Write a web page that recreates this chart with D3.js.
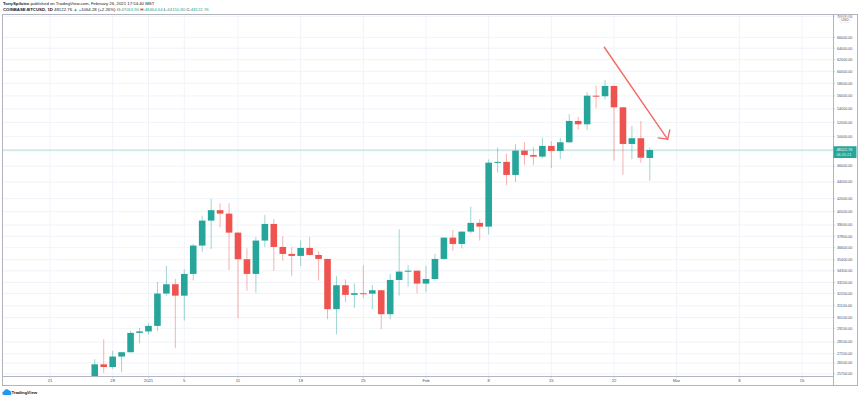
<!DOCTYPE html>
<html><head><meta charset="utf-8">
<script src="https://cdn.jsdelivr.net/npm/d3@7"></script>
<style>html,body{margin:0;padding:0;background:#fff;} svg{display:block;font-family:"Liberation Sans",Arial,sans-serif;}</style>
</head><body><svg id="c" width="860" height="399"></svg>
<script>
// ---- data ----
const dates = ["2020-12-26","2020-12-27","2020-12-28","2020-12-29","2020-12-30","2020-12-31",
"2021-01-01","2021-01-02","2021-01-03","2021-01-04","2021-01-05","2021-01-06","2021-01-07","2021-01-08","2021-01-09","2021-01-10",
"2021-01-11","2021-01-12","2021-01-13","2021-01-14","2021-01-15","2021-01-16","2021-01-17","2021-01-18","2021-01-19","2021-01-20",
"2021-01-21","2021-01-22","2021-01-23","2021-01-24","2021-01-25","2021-01-26","2021-01-27","2021-01-28","2021-01-29","2021-01-30","2021-01-31",
"2021-02-01","2021-02-02","2021-02-03","2021-02-04","2021-02-05","2021-02-06","2021-02-07","2021-02-08","2021-02-09","2021-02-10",
"2021-02-11","2021-02-12","2021-02-13","2021-02-14","2021-02-15","2021-02-16","2021-02-17","2021-02-18","2021-02-19","2021-02-20",
"2021-02-21","2021-02-22","2021-02-23","2021-02-24","2021-02-25","2021-02-26"];
const opens  = [24700,26400,26200,26980,27310,28830, 28950,29400,32190,33040,32000,34010,36820,39490,40660,40270,
38180,35440,34010,37340,39120,36680,35970,35770,36580,35870, 35470,30810,32950,32070,32220,32180,32490,30380,33440,34230,34320,
33100,33530,35470,37650,36990,38290,39240,38830,46450,46550, 44880,48040,47460,47240,48680,48000,49180,52210,51720,56040,
55950,57590,54240,48950,49740,47063.90];
const highs  = [26780,28320,27410,27320,28990,29240, 29620,33260,34780,33540,34460,36990,40040,41960,41460,41460,
38250,36530,37730,40110,39670,37790,36680,37360,37730,36240, 35500,33820,33490,33120,34850,32960,32520,34000,38550,34850,34320,
34770,35970,37690,38460,38300,41070,39660,46870,48480,47630, 48940,49190,48480,49850,49350,49800,53190,52810,56570,57630,
58560,57600,54300,51490,52210,48464.64];
const lows   = [24500,25750,26070,25830,27300,28010, 28700,28990,32000,27620,29840,33400,36180,36480,38760,34390,
30040,32450,32270,36680,34290,35300,33820,34770,35800,33380, 29960,28720,31410,30930,31790,30810,29130,29940,32000,32820,32200,
32310,33380,35400,36270,36530,38070,37340,38000,45180,43610, 44000,46160,46160,47020,45740,46920,49100,50960,50890,54100,
55470,46710,44880,46890,46450,44150.80];
const closes = [26400,26200,26980,27310,28830,28950, 29400,32190,33040,32000,34010,36820,39490,40660,40270,38180,
35440,34010,37340,39120,36680,35970,35770,36580,35870,35470, 30810,32950,32070,32220,32180,32490,30380,33440,34230,34320,33100,
33530,35470,37650,36990,38290,39240,38830,46450,46550,44880, 48040,47460,47240,48680,48000,49180,52210,51720,56040,55950,
57590,54240,48950,49740,47100,48122.76];
const priceTicks = [70000,66000,64000,62000,60000,58000,56000,54000,52000,50000,48000,46000,44000,42000,
40500,39000,37800,36600,35400,34300,33200,32200,31100,30100,29200,28100,27200,26500,25700];
const xTickDates  = ["2020-12-21","2020-12-28","2021-01-01","2021-01-05","2021-01-11","2021-01-18","2021-01-25",
"2021-02-01","2021-02-08","2021-02-15","2021-02-22","2021-03-01","2021-03-08","2021-03-15"];
const xTickLabels = ["21","28","2021","5","11","18","25","Feb","8","15","22","Mar","8","15"];
const lastPrice = 48122.76;
const countdown = "06:45:21";
const arrowFrom = {date:"2021-02-20T22:00:00Z", price:64180};
const arrowTo   = {date:"2021-02-28T00:00:00Z", price:49590};
const headerLine1 = ["TonySpilotro", " published on TradingView.com, February 26, 2021 17:54:40 MST"];
const headerLine2 = [["COINBASE:BTCUSD, 1D ","#131722"],["48122.76 ","#131722"],["▲ ","#26a69a"],["+1064.28 (+2.26%) ","#131722"],
  ["O:","#131722"],["47063.90 ","#26a69a"],["H:","#131722"],["48464.64 ","#26a69a"],["L:","#131722"],["44150.80 ","#26a69a"],["C:","#131722"],["48122.76","#26a69a"]];

// ---- layout ----
const W=860,H=399;
const L=2, R=833, T=14, B=376, FB=386, FR=858;
const UP="#26a69a", DOWN="#ef5350";
const svg=d3.select("#c");
const parse = s => new Date(s.length===10 ? s+"T00:00:00Z" : s);

const x = d3.scaleUtc().domain([parse("2020-12-21"), parse("2021-03-15")]).range([50, 802]);
const y = d3.scaleLog().domain([25550, 70450]).range([B, T]);

const candles = dates.map((d,i)=>({date:parse(d), o:opens[i], h:highs[i], l:lows[i], c:closes[i]}));

svg.append("rect").attr("width",W).attr("height",H).attr("fill","#fff");

// grid
const grid=svg.append("g");
grid.selectAll("line.h").data(priceTicks).join("line")
  .attr("x1",L).attr("x2",R).attr("y1",d=>y(d)).attr("y2",d=>y(d))
  .attr("stroke","#f0f3fa").attr("stroke-width",1);
grid.selectAll("line.v").data(xTickDates).join("line")
  .attr("x1",d=>x(parse(d))).attr("x2",d=>x(parse(d))).attr("y1",T).attr("y2",B)
  .attr("stroke","#f0f3fa").attr("stroke-width",1);

// clip
svg.append("clipPath").attr("id","plot").append("rect").attr("x",L).attr("y",T).attr("width",R-L).attr("height",B-T);
const plot=svg.append("g").attr("clip-path","url(#plot)");

// last price line
plot.append("line").attr("x1",L).attr("x2",R).attr("y1",y(lastPrice)).attr("y2",y(lastPrice))
  .attr("stroke",UP).attr("stroke-opacity",0.35).attr("stroke-width",1);

// candles
const bw = 6.6;
const cg = plot.append("g");
cg.selectAll("line.w").data(candles).join("line")
  .attr("x1",d=>x(d.date)).attr("x2",d=>x(d.date))
  .attr("y1",d=>y(d.h)).attr("y2",d=>y(d.l))
  .attr("stroke",d=>d.c>=d.o?UP:DOWN).attr("stroke-opacity",0.45).attr("stroke-width",1);
cg.selectAll("rect.b").data(candles).join("rect")
  .attr("x",d=>x(d.date)-bw/2).attr("width",bw)
  .attr("y",d=>y(Math.max(d.o,d.c)))
  .attr("height",d=>Math.max(1,Math.abs(y(d.o)-y(d.c))))
  .attr("fill",d=>d.c>=d.o?UP:DOWN);

// arrow
const ax1=x(parse(arrowFrom.date)), ay1=y(arrowFrom.price), ax2=x(parse(arrowTo.date)), ay2=y(arrowTo.price);
const ang=Math.atan2(ay1-ay2, ax1-ax2), hl=9.6, spread=47*Math.PI/180;
const arrowG=svg.append("g").attr("stroke","#f26b67").attr("stroke-width",1.4).attr("fill","none").attr("stroke-linecap","round");
arrowG.append("line").attr("x1",ax1).attr("y1",ay1).attr("x2",ax2).attr("y2",ay2);
arrowG.append("polyline").attr("points",[
  [ax2+hl*Math.cos(ang+spread), ay2+hl*Math.sin(ang+spread)],
  [ax2,ay2],
  [ax2+hl*Math.cos(ang-spread), ay2+hl*Math.sin(ang-spread)]].map(p=>p.join(",")).join(" "));

// frame
const fc="#b2b5be";
svg.append("rect").attr("x",L+0.5).attr("y",T+0.5).attr("width",FR-L-1).attr("height",FB-T-1)
  .attr("fill","none").attr("stroke",fc).attr("stroke-width",1);
svg.append("line").attr("x1",R+0.5).attr("x2",R+0.5).attr("y1",T).attr("y2",FB).attr("stroke",fc);
svg.append("line").attr("x1",L).attr("x2",R).attr("y1",B+0.5).attr("y2",B+0.5).attr("stroke",fc);

// price axis labels
const pa=svg.append("g").attr("font-size",3.7).attr("fill","#4c525e");
priceTicks.forEach(p=>{
  const yy=y(p);
  if (yy<T-2) return;
  pa.append("line").attr("x1",R).attr("x2",R+2).attr("y1",yy).attr("y2",yy).attr("stroke",fc).attr("stroke-width",0.6);
  pa.append("text").attr("x",R+4).attr("y",yy+1.3).text(d3.format(".2f")(p));
});
// USD tag
svg.append("rect").attr("x",840).attr("y",17.5).attr("width",10).attr("height",5).attr("fill","#fff").attr("stroke","#e0e3eb").attr("stroke-width",0.5);
svg.append("text").attr("x",845).attr("y",21.4).attr("text-anchor","middle").attr("font-size",3.5).attr("fill","#4c525e").text("USD");

// last price tag
const ly=y(lastPrice);
svg.append("rect").attr("x",R+0.5).attr("y",ly-3.8).attr("width",23).attr("height",11.8).attr("fill",UP);
svg.append("text").attr("x",R+3.5).attr("y",ly+1.4).attr("font-size",3.8).attr("fill","#fff").text(d3.format(".2f")(lastPrice));
svg.append("text").attr("x",R+3.5).attr("y",ly+6.2).attr("font-size",3.8).attr("fill","#fff").attr("fill-opacity",0.85).text(countdown);

// x axis labels
const xa=svg.append("g").attr("font-size",4.2).attr("fill","#4c525e").attr("text-anchor","middle");
xTickDates.forEach((d,i)=>{
  const xx=x(parse(d));
  xa.append("line").attr("x1",xx).attr("x2",xx).attr("y1",B).attr("y2",B+2).attr("stroke",fc).attr("stroke-width",0.6);
  xa.append("text").attr("x",xx).attr("y",B+6.3).text(xTickLabels[i]);
});

// header
const h1=svg.append("text").attr("x",3).attr("y",5.3).attr("font-size",4.3).attr("fill","#131722");
h1.append("tspan").attr("font-weight","bold").text(headerLine1[0]);
h1.append("tspan").text(headerLine1[1]);
const h2=svg.append("text").attr("x",3).attr("y",11.4).attr("font-size",4.3);
headerLine2.forEach(([t,c],i)=>h2.append("tspan").attr("fill",c).attr("font-weight",i===0?"bold":"normal").text(t));

// logo
const lg=svg.append("g").attr("transform","translate(2,389)");
lg.append("path").attr("d","M1.5,6 a2,2 0 0 1 0.5,-3.8 a2.8,2.8 0 0 1 5,-0.6 a2,2 0 0 1 2.2,2.4 a1.5,1.5 0 0 1 -0.4,2 z").attr("fill","#2196f3");
lg.append("text").attr("x",9.5).attr("y",5.4).attr("font-size",4.4).attr("font-weight","bold").attr("fill","#131722").text("TradingView");
</script></body></html>
